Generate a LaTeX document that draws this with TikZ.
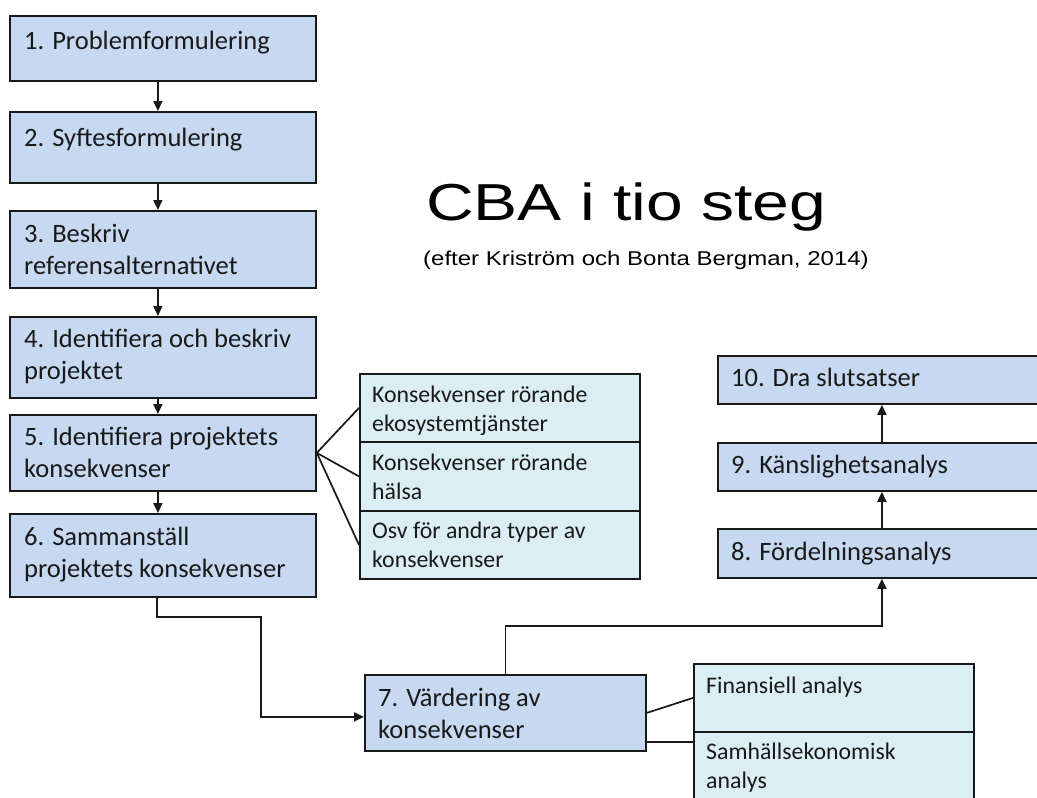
\documentclass[tikz,border=0pt]{standalone}
\usepackage{graphicx}
\usepackage{fontspec}
\setmainfont{Carlito}
\newfontfamily\titlefont{Liberation Sans}
\usetikzlibrary{arrows.meta,calc}
\definecolor{mainblue}{RGB}{198,217,241}
\definecolor{lightblue}{RGB}{219,238,243}
\definecolor{edge}{RGB}{25,25,25}
\tikzset{
  stepbox/.style={draw=edge, line width=1.8pt, fill=mainblue, rectangle, inner sep=0pt, anchor=north west},
  subbox/.style={draw=edge, line width=1.8pt, fill=lightblue, rectangle, inner sep=0pt, anchor=north west},
  mtext/.style={font=\fontsize{26.5}{32}\selectfont, text=black!90, align=left, anchor=base west, inner sep=0pt},
  stext/.style={font=\fontsize{23.8}{29}\selectfont, text=black!90, align=left, anchor=base west, inner sep=0pt},
  arr/.style={draw=edge, line width=1.7pt, -{Triangle[length=10pt,width=9pt]}},
  link/.style={draw=edge, line width=1.7pt}
}
\begin{document}
\begin{tikzpicture}[x=1pt,y=-1pt]
\useasboundingbox (0,0) rectangle (1037,798);
\clip (0,0) rectangle (1037,798);
\fill[white] (0,0) rectangle (1037,798);

% main steps
\node[stepbox, minimum width=306pt, minimum height=65pt] (b1) at (9,15) {};
\node[stepbox, minimum width=306pt, minimum height=71pt] (b2) at (9,111) {};
\node[stepbox, minimum width=306pt, minimum height=77pt] (b3) at (9,210) {};
\node[stepbox, minimum width=306pt, minimum height=81pt] (b4) at (9,316) {};
\node[stepbox, minimum width=306pt, minimum height=76pt] (b5) at (9,414) {};
\node[stepbox, minimum width=306pt, minimum height=83pt] (b6) at (9,513) {};
\node[stepbox, minimum width=281pt, minimum height=76pt] (b7) at (364,674) {};
\node[stepbox, minimum width=328pt, minimum height=49pt] (b8) at (717,528) {};
\node[stepbox, minimum width=328pt, minimum height=48pt] (b9) at (717,442) {};
\node[stepbox, minimum width=328pt, minimum height=48pt] (b10) at (717,355) {};

% (multi-line texts are placed by the baseline of their last line)
\node[mtext] (t1) at ($(b1.north west)+(15,34)$) {1. Problemformulering};
\node[mtext] (t2) at ($(b2.north west)+(15,35)$) {2. Syftesformulering};
\node[mtext] (t3) at ($(b3.north west)+(15,64)$) {3. Beskriv\\referensalternativet};
\node[mtext] (t4) at ($(b4.north west)+(15,63)$) {4. Identifiera och beskriv\\projektet};
\node[mtext] (t5) at ($(b5.north west)+(15,63)$) {5. Identifiera projektets\\konsekvenser};
\node[mtext] (t6) at ($(b6.north west)+(15,64)$) {6. Sammanställ\\projektets konsekvenser};
\node[mtext] (t7) at ($(b7.north west)+(14,64)$) {7. Värdering av\\konsekvenser};
\node[mtext] (t8) at ($(b8.north west)+(14,32)$) {8. Fördelningsanalys};
\node[mtext] (t9) at ($(b9.north west)+(14,31)$) {9. Känslighetsanalys};
\node[mtext] (t10) at ($(b10.north west)+(14,31)$) {10. Dra slutsatser};

% sub boxes
\node[subbox, minimum width=280pt, minimum height=68pt] (la) at (359,373) {};
\node[subbox, minimum width=280pt, minimum height=69pt] (lb) at (359,441) {};
\node[subbox, minimum width=280pt, minimum height=68pt] (lc) at (359,510) {};
\node[subbox, minimum width=280pt, minimum height=68pt] (ld) at (693,663) {};
\node[subbox, minimum width=280pt, minimum height=90pt] (le) at (693,731) {};

\node[stext] (ta) at ($(la.north west)+(13,58)$) {Konsekvenser rörande\\ekosystemtjänster};
\node[stext] (tb) at ($(lb.north west)+(13,58)$) {Konsekvenser rörande\\hälsa};
\node[stext] (tc) at ($(lc.north west)+(13,57)$) {Osv för andra typer av\\konsekvenser};
\node[stext] (td) at ($(ld.north west)+(13,30)$) {Finansiell analys};
\node[stext] (te) at ($(le.north west)+(13,57)$) {Samhällsekonomisk\\analys};

% title
\node[anchor=base west, inner sep=0pt, font=\titlefont\fontsize{52}{60}\selectfont] (title) at (426,220) {\scalebox{1.27}[1]{CBA i tio steg}};
\node[anchor=base west, inner sep=0pt, font=\titlefont\fontsize{20}{24}\selectfont] (sub) at (423,265) {\scalebox{1.2}[1]{(efter Kriström och Bonta Bergman, 2014)}};

% connectors
\draw[arr] ([xshift=-5pt]b1.south) -- ([xshift=-5pt]b2.north);
\draw[arr] ([xshift=-5pt]b2.south) -- ([xshift=-5pt]b3.north);
\draw[arr] ([xshift=-5pt]b3.south) -- ([xshift=-5pt]b4.north);
\draw[arr] ([xshift=-5pt]b4.south) -- ([xshift=-5pt]b5.north);
\draw[arr] ([xshift=-5pt]b5.south) -- ([xshift=-5pt]b6.north);

\draw[link] (b5.east) -- (la.west);
\draw[link] (b5.east) -- (lb.west);
\draw[link] (b5.east) -- (lc.west);

\coordinate (k67) at (261,617);
\draw[arr] ([xshift=-6pt]b6.south) |- (k67) |- ([yshift=-4pt]b7.west);

\coordinate (k78) at (504,626);
\draw[arr] (b7.north) |- (k78 -| b8.south) -- (b8.south);
\draw[arr] (b8.north) -- (b9.south);
\draw[arr] (b9.north) -- (b10.south);

\draw[link] (b7.east) -- (ld.west);
\coordinate (k7e) at ([yshift=-29pt]b7.east);
\draw[link] (k7e) -- (k7e -| le.west);
\end{tikzpicture}
\end{document}
